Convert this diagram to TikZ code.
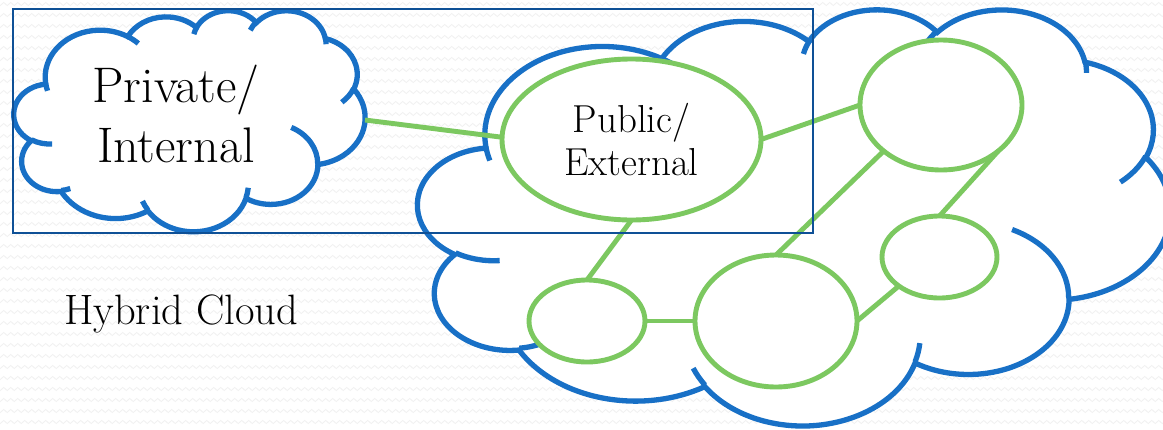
\documentclass[tikz,border=0pt]{standalone}
\usepackage{fontspec}
\usetikzlibrary{shapes.geometric,decorations.pathmorphing}

\definecolor{cloudblue}{RGB}{24,112,198}
\definecolor{linkgreen}{RGB}{124,200,96}
\definecolor{frameblue}{RGB}{14,80,150}
\definecolor{texgray}{RGB}{241,241,241}

\tikzset{
  cloudline/.style={draw=cloudblue, line width=5.3pt},
  gnode/.style={ellipse, draw=linkgreen, line width=4.9pt, fill=white,
                inner sep=0pt, outer sep=0pt},
  link/.style={draw=linkgreen, line width=4.9pt},
  framebox/.style={draw=frameblue, line width=2pt},
  bgwave/.style={draw=texgray, line width=0.8pt, decorate,
                 decoration={zigzag, segment length=7pt, amplitude=1.6pt}}
}

% Office-style cloud: eleven bumps plus the inner crease strokes,
% laid out in a 432 x 432 box; #1,#2 = top-left corner, #3,#4 = scale
\newcommand\cloudat[4]{%
  \begin{scope}[xshift=#1pt, yshift=-#2pt, x=#3pt, y=-#4pt]
    \filldraw[cloudline, fill=white] (39.00,143.70)
      arc[start angle=-187.745, end angle=-59.63,  x radius=67.53, y radius=91.90]
      arc[start angle=-152.04,  end angle=-45.456, x radius=53.33, y radius=72.67]
      arc[start angle=-153.49,  end angle=-37.33,  x radius=43.65, y radius=59.45]
      arc[start angle=-139.70,  end angle=-10.21,  x radius=48.57, y radius=65.95]
      arc[start angle=-74.77,   end angle=23.21,   x radius=53.33, y radius=72.73]
      arc[start angle=-37.52,   end angle=81.86,   x radius=67.75, y radius=92.20]
      arc[start angle=0.46,     end angle=121.98,  x radius=57.85, y radius=78.67]
      arc[start angle=16.84,    end angle=146.23,  x radius=67.52, y radius=92.15]
      arc[start angle=58.98,    end angle=150.20,  x radius=77.20, y radius=105.43]
      arc[start angle=-276.69,  end angle=-136.89, x radius=43.60, y radius=59.18]
      arc[start angle=-239.65,  end angle=-95.89,  x radius=43.45, y radius=59.45]
      -- cycle;
    \draw[cloudline]
      (46.93,261.77)  arc[start angle=85.55,   end angle=120.35,  x radius=43.45, y radius=59.45]
      (69.28,348.99)  arc[start angle=68.24,   end angle=83.31,   x radius=43.60, y radius=59.18]
      (164.78,390.90) arc[start angle=146.23,  end angle=158.47,  x radius=67.52, y radius=92.15]
      (288.27,347.51) arc[start angle=4.74,    end angle=16.84,   x radius=67.52, y radius=92.15]
      (341.29,229.54) arc[start angle=-64.03,  end angle=0.46,    x radius=57.85, y radius=78.67]
      (417.98,153.54) arc[start angle=23.21,   end angle=49.65,   x radius=53.33, y radius=72.73]
      (383.24,54.26)  arc[start angle=-10.21,  end angle=0.82,    x radius=48.57, y radius=65.95]
      (290.78,39.52)  arc[start angle=-156.29, end angle=-139.70, x radius=48.57, y radius=65.95]
      (221.41,47.20)  arc[start angle=-167.73, end angle=-153.49, x radius=43.65, y radius=59.45]
      (140.00,51.92)  arc[start angle=-59.63,  end angle=-45.74,  x radius=67.53, y radius=91.90]
      (41.27,157.89)  arc[start angle=163.19,  end angle=172.255, x radius=67.53, y radius=91.90];
  \end{scope}}

\begin{document}
\begin{tikzpicture}[x=1pt, y=-1pt]
  \useasboundingbox (0,0) rectangle (1163,429);
  \begin{scope}
    \clip (0,0) rectangle (1163,429);

    % textured slide background
    \fill[white] (0,0) rectangle (1163,429);
    \foreach \r in {0,...,39}
      \draw[bgwave] (-5,\r*11+4) -- (1170,\r*11+4);

    % public cloud (large, right) and private cloud (left)
    \cloudat{418}{8.5}{1.74074}{0.96296}
    \cloudat{14}{10}{0.8125}{0.51157}

    \node[font=\fontsize{50}{60}\selectfont, align=center] (priv) at (176,114)
      {Private/\\Internal};
    \coordinate (privR) at (365,120);

    % public service nodes
    \node[gnode, minimum width=259pt, minimum height=161pt,
          font=\fontsize{39}{43}\selectfont, align=center] (pub) at (631.5,139.5)
      {Public/\\External};
    \node[gnode, minimum width=162pt, minimum height=130pt] (tr)  at (941,105) {};
    \node[gnode, minimum width=115pt, minimum height=82pt]  (sr)  at (939.5,257) {};
    \node[gnode, minimum width=162pt, minimum height=132pt] (mid) at (776,321) {};
    \node[gnode, minimum width=116pt, minimum height=82pt]  (sl)  at (587,321) {};

    % links
    \draw[link] (privR) -- (pub.179);
    \draw[link] (pub.east) -- (tr.west);
    \draw[link] (pub.south) -- (sl.north);
    \draw[link] (sl.east) -- (mid.west);
    \draw[link] (tr.south west) -- (mid.north);
    \draw[link] (tr.south east) -- (sr.north);
    \draw[link] (mid.east) -- (sr.south west);

    % hybrid boundary
    \draw[framebox] (13,9) rectangle (813,233);

    \node[font=\fontsize{42.5}{48}\selectfont, anchor=base west, inner sep=0pt]
      (hybrid) at (64,324) {Hybrid Cloud};
  \end{scope}
\end{tikzpicture}
\end{document}
